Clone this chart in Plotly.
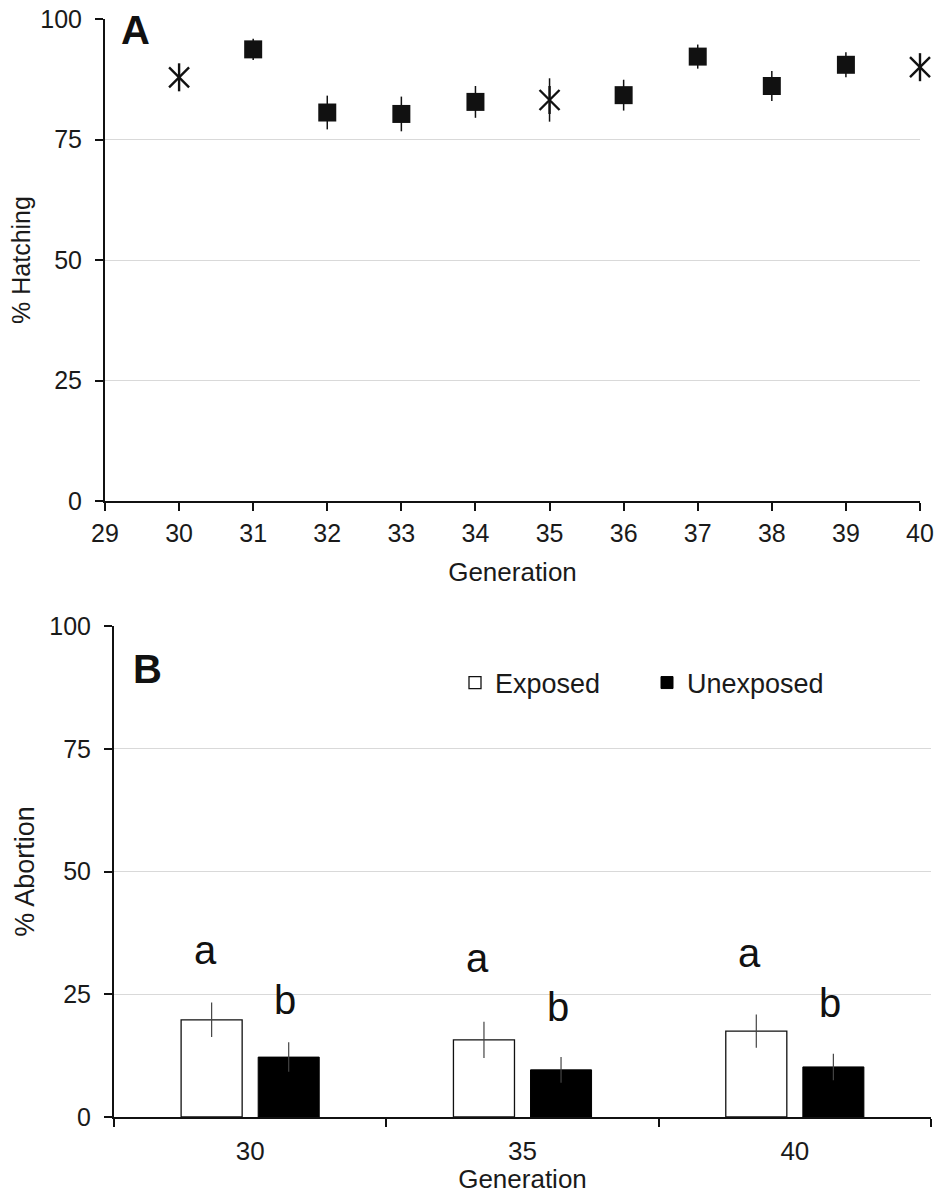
import plotly.graph_objects as go

# ---- Panel A: hatching rate per generation ----
generations = [30, 31, 32, 33, 34, 35, 36, 37, 38, 39, 40]
hatching = [87.9, 93.7, 80.6, 80.3, 82.8, 83.2, 84.2, 92.2, 86.1, 90.5, 90.0]
hatching_err = [2.5, 2.2, 3.5, 3.6, 3.3, 4.5, 3.2, 2.5, 3.1, 2.6, 2.8]
exposed_generations = [30, 35, 40]

# ---- Panel B: abortion rate by group ----
b_generations = ["30", "35", "40"]
exposed_abortion = [19.8, 15.7, 17.5]
exposed_err = [3.5, 3.7, 3.4]
unexposed_abortion = [12.2, 9.6, 10.2]
unexposed_err = [3.0, 2.6, 2.7]
letters_exposed = ["a", "a", "a"]
letters_unexposed = ["b", "b", "b"]

W, H = 936, 1194
ML, MR, MT, MB = 80, 4, 4, 4
PW, PH = W - ML - MR, H - MT - MB


def xd(p0, p1):
    return [(p0 - ML) / PW, (p1 - ML) / PW]


def yd(p_bottom, p_top):
    return [(H - MB - p_bottom) / PH, (H - MB - p_top) / PH]


FONT = "Liberation Sans, Arial, sans-serif"
TXT = "#1a1a1a"
GRID = "#d9d9d9"

fig = go.Figure()

plain = [(g, v, e) for g, v, e in zip(generations, hatching, hatching_err) if g not in exposed_generations]
star = [(g, v, e) for g, v, e in zip(generations, hatching, hatching_err) if g in exposed_generations]

fig.add_trace(go.Scatter(
    x=[p[0] for p in plain], y=[p[1] for p in plain],
    error_y=dict(type="data", array=[p[2] for p in plain], width=0, thickness=1.5, color="#111"),
    mode="markers", marker=dict(symbol="square", size=18, color="#111"),
    cliponaxis=False, showlegend=False, xaxis="x", yaxis="y"))

# asterisk = diagonal cross plus a vertical stroke
for sym, size, with_err in (("x-thin", 20, True), ("line-ns", 20, False)):
    fig.add_trace(go.Scatter(
        x=[p[0] for p in star], y=[p[1] for p in star],
        error_y=dict(type="data", array=[p[2] for p in star], width=0, thickness=1.5,
                     color="#111", visible=with_err),
        mode="markers",
        marker=dict(symbol=sym, size=size, color="#111", line=dict(width=2.4, color="#111")),
        cliponaxis=False, showlegend=False, xaxis="x", yaxis="y"))

fig.add_trace(go.Bar(
    x=b_generations, y=exposed_abortion, name="Exposed",
    marker=dict(color="white", line=dict(color="#111", width=1.3)),
    error_y=dict(type="data", array=exposed_err, width=0, thickness=1.2, color="#444"),
    xaxis="x2", yaxis="y2"))
fig.add_trace(go.Bar(
    x=b_generations, y=unexposed_abortion, name="Unexposed",
    marker=dict(color="#000", line=dict(color="#000", width=1)),
    error_y=dict(type="data", array=unexposed_err, width=0, thickness=1.2, color="#444"),
    xaxis="x2", yaxis="y2"))

axis_common = dict(
    showline=True, linecolor="#111", linewidth=2,
    ticks="outside", ticklen=8, tickwidth=2, tickcolor="#111",
    tickfont=dict(family=FONT, size=25, color=TXT),
    zeroline=False, automargin=False,
)

panel_tags = [("<b>A</b>", 135, 30), ("<b>B</b>", 147, 669)]
annotations = [
    dict(text=t, x=(px - ML) / PW, y=(H - MB - py) / PH,
         xref="paper", yref="paper", xanchor="center", yanchor="middle", showarrow=False,
         font=dict(family=FONT, size=40, color="#111"))
    for t, px, py in panel_tags
]

letter_heights_a = [34.0, 32.4, 33.4]
letter_heights_b = [23.8, 22.4, 23.2]
for i, (la, lb, ya, yb) in enumerate(zip(letters_exposed, letters_unexposed,
                                         letter_heights_a, letter_heights_b)):
    annotations.append(dict(text=la, x=i, y=ya, xref="x2", yref="y2", xshift=-45,
                            xanchor="center", yanchor="middle", showarrow=False,
                            font=dict(family=FONT, size=40, color="#111")))
    annotations.append(dict(text=lb, x=i, y=yb, xref="x2", yref="y2", xshift=35,
                            xanchor="center", yanchor="middle", showarrow=False,
                            font=dict(family=FONT, size=40, color="#111")))

fig.update_layout(
    width=W, height=H,
    margin=dict(l=ML, r=MR, t=MT, b=MB),
    paper_bgcolor="white", plot_bgcolor="white",
    font=dict(family=FONT, color=TXT),
    barmode="group", bargap=0.434, bargroupgap=0.208,
    xaxis=dict(
        **axis_common, domain=xd(105, 920), anchor="y",
        range=[29, 40], dtick=1, tick0=29, showgrid=False,
        ticklabelstandoff=1,
        title=dict(text="Generation", font=dict(family=FONT, size=26, color=TXT), standoff=17),
    ),
    yaxis=dict(
        **axis_common, domain=yd(501, 19), anchor="x",
        range=[0, 100], tickvals=[0, 25, 50, 75, 100],
        showgrid=True, gridcolor=GRID, gridwidth=1,
        ticklabelstandoff=8,
        title=dict(text="% Hatching", font=dict(family=FONT, size=25, color=TXT), standoff=3),
    ),
    xaxis2=dict(
        **axis_common, domain=xd(114, 931), anchor="y2",
        type="category", tickson="boundaries", range=[-0.5, 2.5], showgrid=False,
        ticklabelstandoff=10,
        title=dict(text="Generation", font=dict(family=FONT, size=26, color=TXT), standoff=6),
    ),
    yaxis2=dict(
        **axis_common, domain=yd(1117, 626), anchor="x2",
        range=[0, 100], tickvals=[0, 25, 50, 75, 100],
        showgrid=True, gridcolor=GRID, gridwidth=1,
        ticklabelstandoff=8,
        title=dict(text="% Abortion", font=dict(family=FONT, size=27, color=TXT), standoff=7),
    ),
    legend=dict(
        orientation="h", x=(455 - ML) / PW, y=(H - MB - 683) / PH,
        xanchor="left", yanchor="middle",
        font=dict(family=FONT, size=27, color=TXT),
        entrywidth=147, entrywidthmode="pixels", itemwidth=30,
        bgcolor="rgba(0,0,0,0)",
    ),
    annotations=annotations,
)
fig.update_xaxes(selector=dict(anchor="y2"), tickfont=dict(family=FONT, size=26, color=TXT))

fig.write_html("out.html")
